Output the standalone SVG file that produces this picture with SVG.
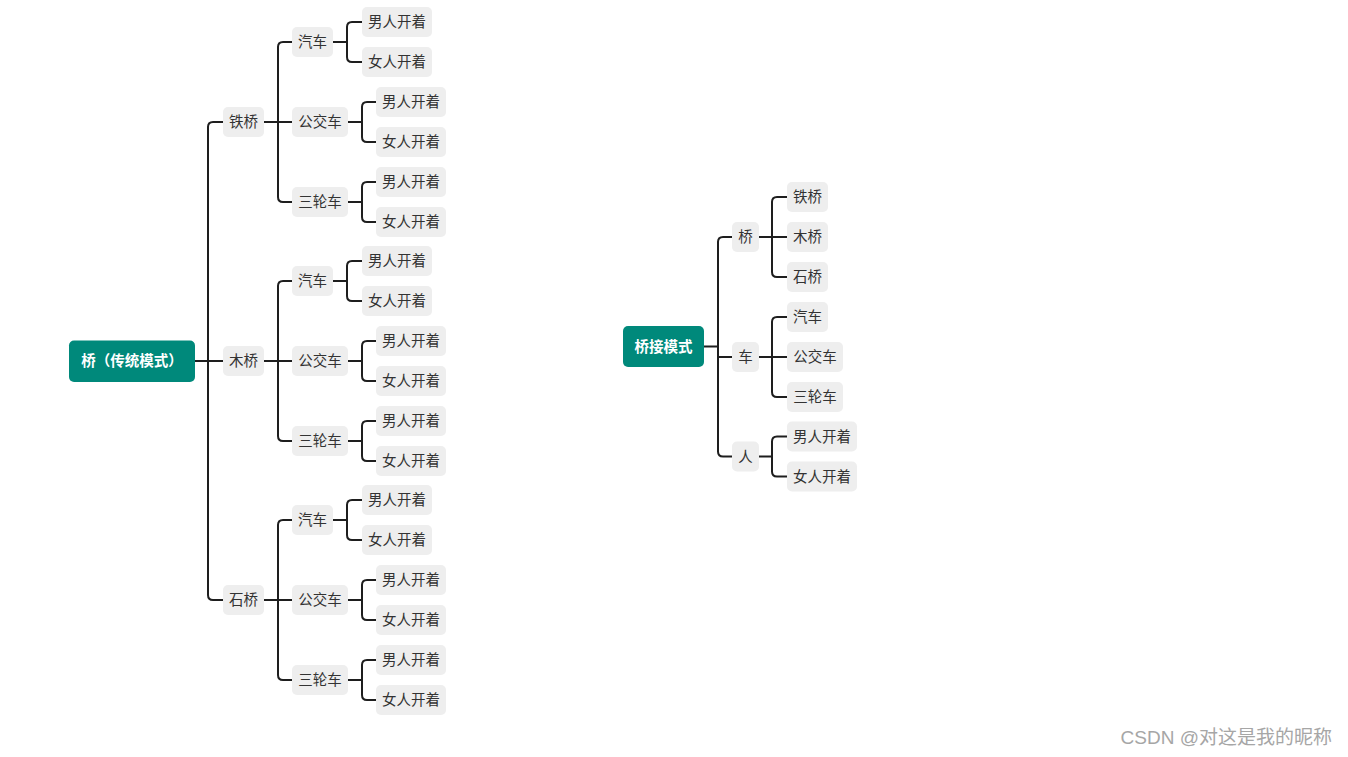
<svg xmlns="http://www.w3.org/2000/svg" width="1348" height="757" viewBox="0 0 1348 757">
<style>
.n{fill:#eeeeee}
.r{fill:#00897b}
.t{font-family:"Liberation Sans","Noto Sans CJK SC",sans-serif;font-size:14.5px;fill:#333;text-anchor:middle}
.rt{font-family:"Liberation Sans","Noto Sans CJK SC",sans-serif;font-size:14.5px;fill:#fff;font-weight:bold;text-anchor:middle}
.c{fill:none;stroke:#1e1e1e;stroke-width:2}
.wm{font-family:"Liberation Sans","Noto Sans CJK SC",sans-serif;font-size:19px;fill:#a6a6a6;text-anchor:end}
</style>
<rect width="1348" height="757" fill="#fff"/>
<g id="connectors" class="c">
<path d="M195,361H223 M208,361V127Q208,122 213,122H223 M208,361V595Q208,600 213,600H223"/>
<path d="M264,122H292 M278,122V47Q278,42 283,42H292 M278,122V197Q278,202 283,202H292"/>
<path d="M264,361H292 M278,361V286Q278,281 283,281H292 M278,361V436Q278,441 283,441H292"/>
<path d="M264,600H292 M278,600V525Q278,520 283,520H292 M278,600V675Q278,680 283,680H292"/>
<path d="M333,42H347 M347,42V27Q347,22 352,22H362 M347,42V57Q347,62 352,62H362"/>
<path d="M333,281H347 M347,281V266Q347,261 352,261H362 M347,281V296Q347,301 352,301H362"/>
<path d="M333,520H347 M347,520V505Q347,500 352,500H362 M347,520V535Q347,540 352,540H362"/>
<path d="M348,122H362 M362,122V107Q362,102 367,102H376 M362,122V137Q362,142 367,142H376"/>
<path d="M348,202H362 M362,202V187Q362,182 367,182H376 M362,202V217Q362,222 367,222H376"/>
<path d="M348,361H362 M362,361V346Q362,341 367,341H376 M362,361V376Q362,381 367,381H376"/>
<path d="M348,441H362 M362,441V426Q362,421 367,421H376 M362,441V456Q362,461 367,461H376"/>
<path d="M348,600H362 M362,600V585Q362,580 367,580H376 M362,600V615Q362,620 367,620H376"/>
<path d="M348,680H362 M362,680V665Q362,660 367,660H376 M362,680V695Q362,700 367,700H376"/>
<path d="M704,346.5H718 M718,346.5V242Q718,237 723,237H732 M718,346.5V451.5Q718,456.5 723,456.5H732 M718,357H732"/>
<path d="M759,237H787 M772,237V202Q772,197 777,197H787 M772,237V272Q772,277 777,277H787"/>
<path d="M759,357H787 M772,357V322Q772,317 777,317H787 M772,357V392Q772,397 777,397H787"/>
<path d="M759,456.5H772 M772,456.5V441.5Q772,436.5 777,436.5H787 M772,456.5V471.5Q772,476.5 777,476.5H787"/>
</g>
<g id="root1"><rect class="r" x="69" y="340.5" width="126" height="41.5" rx="5"/><text class="rt" x="132" y="366">桥（传统模式）</text></g>
<g id="tieqiao"><rect class="n" x="223" y="107" width="41" height="30" rx="5"/><text class="t" x="243.5" y="127">铁桥</text></g>
<g id="muqiao"><rect class="n" x="223" y="346" width="41" height="30" rx="5"/><text class="t" x="243.5" y="366">木桥</text></g>
<g id="shiqiao"><rect class="n" x="223" y="585" width="41" height="30" rx="5"/><text class="t" x="243.5" y="605">石桥</text></g>
<g id="a1"><rect class="n" x="292" y="27" width="41" height="30" rx="5"/><text class="t" x="312.5" y="47">汽车</text></g>
<g id="b1"><rect class="n" x="292" y="107" width="56" height="30" rx="5"/><text class="t" x="320" y="127">公交车</text></g>
<g id="c1"><rect class="n" x="292" y="187" width="56" height="30" rx="5"/><text class="t" x="320" y="207">三轮车</text></g>
<g id="a2"><rect class="n" x="292" y="266" width="41" height="30" rx="5"/><text class="t" x="312.5" y="286">汽车</text></g>
<g id="b2"><rect class="n" x="292" y="346" width="56" height="30" rx="5"/><text class="t" x="320" y="366">公交车</text></g>
<g id="c2"><rect class="n" x="292" y="426" width="56" height="30" rx="5"/><text class="t" x="320" y="446">三轮车</text></g>
<g id="a3"><rect class="n" x="292" y="505" width="41" height="30" rx="5"/><text class="t" x="312.5" y="525">汽车</text></g>
<g id="b3"><rect class="n" x="292" y="585" width="56" height="30" rx="5"/><text class="t" x="320" y="605">公交车</text></g>
<g id="c3"><rect class="n" x="292" y="665" width="56" height="30" rx="5"/><text class="t" x="320" y="685">三轮车</text></g>
<g id="a1m"><rect class="n" x="362" y="7" width="70" height="30" rx="5"/><text class="t" x="397" y="27">男人开着</text></g>
<g id="a1f"><rect class="n" x="362" y="47" width="70" height="30" rx="5"/><text class="t" x="397" y="67">女人开着</text></g>
<g id="b1m"><rect class="n" x="376" y="87" width="70" height="30" rx="5"/><text class="t" x="411" y="107">男人开着</text></g>
<g id="b1f"><rect class="n" x="376" y="127" width="70" height="30" rx="5"/><text class="t" x="411" y="147">女人开着</text></g>
<g id="c1m"><rect class="n" x="376" y="167" width="70" height="30" rx="5"/><text class="t" x="411" y="187">男人开着</text></g>
<g id="c1f"><rect class="n" x="376" y="207" width="70" height="30" rx="5"/><text class="t" x="411" y="227">女人开着</text></g>
<g id="a2m"><rect class="n" x="362" y="246" width="70" height="30" rx="5"/><text class="t" x="397" y="266">男人开着</text></g>
<g id="a2f"><rect class="n" x="362" y="286" width="70" height="30" rx="5"/><text class="t" x="397" y="306">女人开着</text></g>
<g id="b2m"><rect class="n" x="376" y="326" width="70" height="30" rx="5"/><text class="t" x="411" y="346">男人开着</text></g>
<g id="b2f"><rect class="n" x="376" y="366" width="70" height="30" rx="5"/><text class="t" x="411" y="386">女人开着</text></g>
<g id="c2m"><rect class="n" x="376" y="406" width="70" height="30" rx="5"/><text class="t" x="411" y="426">男人开着</text></g>
<g id="c2f"><rect class="n" x="376" y="446" width="70" height="30" rx="5"/><text class="t" x="411" y="466">女人开着</text></g>
<g id="a3m"><rect class="n" x="362" y="485" width="70" height="30" rx="5"/><text class="t" x="397" y="505">男人开着</text></g>
<g id="a3f"><rect class="n" x="362" y="525" width="70" height="30" rx="5"/><text class="t" x="397" y="545">女人开着</text></g>
<g id="b3m"><rect class="n" x="376" y="565" width="70" height="30" rx="5"/><text class="t" x="411" y="585">男人开着</text></g>
<g id="b3f"><rect class="n" x="376" y="605" width="70" height="30" rx="5"/><text class="t" x="411" y="625">女人开着</text></g>
<g id="c3m"><rect class="n" x="376" y="645" width="70" height="30" rx="5"/><text class="t" x="411" y="665">男人开着</text></g>
<g id="c3f"><rect class="n" x="376" y="685" width="70" height="30" rx="5"/><text class="t" x="411" y="705">女人开着</text></g>
<g id="root2"><rect class="r" x="623" y="326" width="81" height="41" rx="5"/><text class="rt" x="663.5" y="351.5">桥接模式</text></g>
<g id="qiao"><rect class="n" x="732" y="222" width="27" height="30" rx="5"/><text class="t" x="745.5" y="242">桥</text></g>
<g id="che"><rect class="n" x="732" y="342" width="27" height="30" rx="5"/><text class="t" x="745.5" y="362">车</text></g>
<g id="ren"><rect class="n" x="732" y="441.5" width="27" height="30" rx="5"/><text class="t" x="745.5" y="461.5">人</text></g>
<g id="r-tie"><rect class="n" x="787" y="182" width="41" height="30" rx="5"/><text class="t" x="807.5" y="202">铁桥</text></g>
<g id="r-mu"><rect class="n" x="787" y="222" width="41" height="30" rx="5"/><text class="t" x="807.5" y="242">木桥</text></g>
<g id="r-shi"><rect class="n" x="787" y="262" width="41" height="30" rx="5"/><text class="t" x="807.5" y="282">石桥</text></g>
<g id="r-qi"><rect class="n" x="787" y="302" width="41" height="30" rx="5"/><text class="t" x="807.5" y="322">汽车</text></g>
<g id="r-gong"><rect class="n" x="787" y="342" width="56" height="30" rx="5"/><text class="t" x="815" y="362">公交车</text></g>
<g id="r-san"><rect class="n" x="787" y="382" width="56" height="30" rx="5"/><text class="t" x="815" y="402">三轮车</text></g>
<g id="r-nan"><rect class="n" x="787" y="421.5" width="70" height="30" rx="5"/><text class="t" x="822" y="441.5">男人开着</text></g>
<g id="r-nv"><rect class="n" x="787" y="461.5" width="70" height="30" rx="5"/><text class="t" x="822" y="481.5">女人开着</text></g>
<text class="wm" x="1332" y="744">CSDN @对这是我的昵称</text>
</svg>
